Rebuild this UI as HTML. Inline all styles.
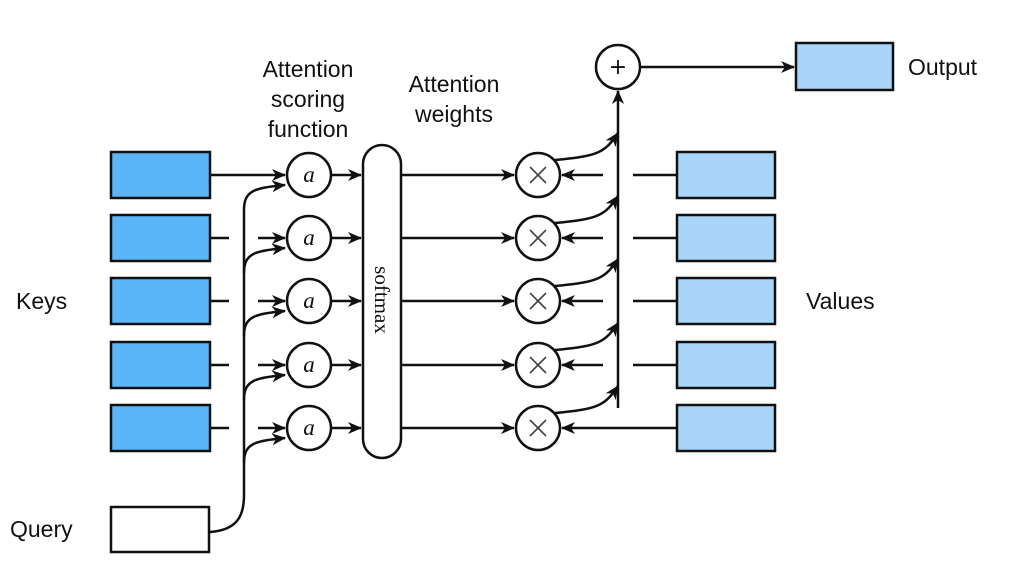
<!DOCTYPE html>
<html><head><meta charset="utf-8"><style>
html,body{margin:0;padding:0;background:#fff;}
svg{display:block;}
text{font-family:"Liberation Sans",sans-serif;fill:#111;}
</style></head><body>
<svg width="1029" height="571" viewBox="0 0 1029 571" xmlns="http://www.w3.org/2000/svg">
<defs>
<marker id="ar" viewBox="0 0 14 12" refX="13" refY="6" markerWidth="14" markerHeight="12" markerUnits="userSpaceOnUse" orient="auto">
<path d="M0,0 L14,6 L0,12 L4,6 Z" fill="#111"/>
</marker>
</defs>
<g stroke="#111" stroke-width="2.5" fill="none">
<g fill="#5bb5f7">
<rect x="111" y="152" width="99" height="46"/>
<rect x="111" y="215" width="99" height="46"/>
<rect x="111" y="278" width="99" height="46"/>
<rect x="111" y="342" width="99" height="46"/>
<rect x="111" y="405" width="99" height="46"/>
</g>
<rect x="111" y="507" width="98" height="45" fill="#fff"/>
<g fill="#a8d5f9">
<rect x="677" y="152" width="98" height="46"/>
<rect x="677" y="215" width="98" height="46"/>
<rect x="677" y="278" width="98" height="46"/>
<rect x="677" y="342" width="98" height="46"/>
<rect x="677" y="405" width="98" height="46"/>
</g>
<rect x="796" y="43" width="97" height="47" fill="#a8d5f9"/>
<path d="M210,175 H285" marker-end="url(#ar)"/>
<path d="M210,238 H229 M258,238 H285" marker-end="url(#ar)"/>
<path d="M210,301 H229 M258,301 H285" marker-end="url(#ar)"/>
<path d="M210,365 H229 M258,365 H285" marker-end="url(#ar)"/>
<path d="M210,428 H229 M258,428 H285" marker-end="url(#ar)"/>
<path d="M210,532 C238,530 244,515 244,495 V210"/>
<path d="M244,210 C244,190 255,188 285,185" marker-end="url(#ar)"/>
<path d="M244,273 C244,253 255,251 285,248" marker-end="url(#ar)"/>
<path d="M244,336 C244,316 255,314 285,311" marker-end="url(#ar)"/>
<path d="M244,400 C244,380 255,378 285,375" marker-end="url(#ar)"/>
<path d="M244,463 C244,443 255,441 285,438" marker-end="url(#ar)"/>
<g fill="#fff">
<circle cx="309" cy="175" r="22"/><circle cx="309" cy="238" r="22"/>
<circle cx="309" cy="301" r="22"/><circle cx="309" cy="365" r="22"/>
<circle cx="309" cy="428" r="22"/>
</g>
<path d="M331,175 H361" marker-end="url(#ar)"/>
<path d="M331,238 H361" marker-end="url(#ar)"/>
<path d="M331,301 H361" marker-end="url(#ar)"/>
<path d="M331,365 H361" marker-end="url(#ar)"/>
<path d="M331,428 H361" marker-end="url(#ar)"/>
<rect x="363" y="145" width="38" height="313" rx="19" fill="#fff"/>
<path d="M401,175 H514" marker-end="url(#ar)"/>
<path d="M401,238 H514" marker-end="url(#ar)"/>
<path d="M401,301 H514" marker-end="url(#ar)"/>
<path d="M401,365 H514" marker-end="url(#ar)"/>
<path d="M401,428 H514" marker-end="url(#ar)"/>
<g fill="#fff">
<circle cx="538" cy="175" r="22"/><circle cx="538" cy="238" r="22"/>
<circle cx="538" cy="301" r="22"/><circle cx="538" cy="365" r="22"/>
<circle cx="538" cy="428" r="22"/>
</g>
<g stroke-width="1.6" stroke="#444">
<path d="M530,167 L546,183 M546,167 L530,183"/>
<path d="M530,230 L546,246 M546,230 L530,246"/>
<path d="M530,293 L546,309 M546,293 L530,309"/>
<path d="M530,357 L546,373 M546,357 L530,373"/>
<path d="M530,420 L546,436 M546,420 L530,436"/>
</g>
<path d="M677,175 H633 M603,175 H562" marker-end="url(#ar)"/>
<path d="M677,238 H633 M603,238 H562" marker-end="url(#ar)"/>
<path d="M677,301 H633 M603,301 H562" marker-end="url(#ar)"/>
<path d="M677,365 H633 M603,365 H562" marker-end="url(#ar)"/>
<path d="M677,428 H562" marker-end="url(#ar)"/>
<path d="M618,408 V91" marker-end="url(#ar)"/>
<path d="M555,160 C600,156 605,152 618,133" marker-end="url(#ar)"/>
<path d="M555,223 C600,219 605,215 618,196" marker-end="url(#ar)"/>
<path d="M555,286 C600,282 605,278 618,259" marker-end="url(#ar)"/>
<path d="M555,350 C600,346 605,342 618,323" marker-end="url(#ar)"/>
<path d="M555,413 C600,409 605,405 618,386" marker-end="url(#ar)"/>
<circle cx="618" cy="67" r="22" fill="#fff"/>
<path d="M640,67 H794" marker-end="url(#ar)"/>
</g>
<text x="618" y="74" font-size="22" text-anchor="middle" style="font-family:'DejaVu Sans',sans-serif">+</text>
<g font-style="italic" font-size="23" text-anchor="middle">
<text x="309" y="182" style="font-family:'Liberation Serif',serif">a</text>
<text x="309" y="245" style="font-family:'Liberation Serif',serif">a</text>
<text x="309" y="308" style="font-family:'Liberation Serif',serif">a</text>
<text x="309" y="372" style="font-family:'Liberation Serif',serif">a</text>
<text x="309" y="435" style="font-family:'Liberation Serif',serif">a</text>
</g>
<text transform="translate(375,300) rotate(90)" font-size="21" text-anchor="middle" style="font-family:'Liberation Serif',serif">softmax</text>
<g font-size="23">
<text x="308" y="77" text-anchor="middle">Attention</text>
<text x="308" y="107" text-anchor="middle">scoring</text>
<text x="308" y="137" text-anchor="middle">function</text>
<text x="454" y="92" text-anchor="middle">Attention</text>
<text x="454" y="122" text-anchor="middle">weights</text>
<text x="908" y="75">Output</text>
<text x="16" y="309">Keys</text>
<text x="806" y="309">Values</text>
<text x="10" y="537">Query</text>
</g>
</svg>
</body></html>
